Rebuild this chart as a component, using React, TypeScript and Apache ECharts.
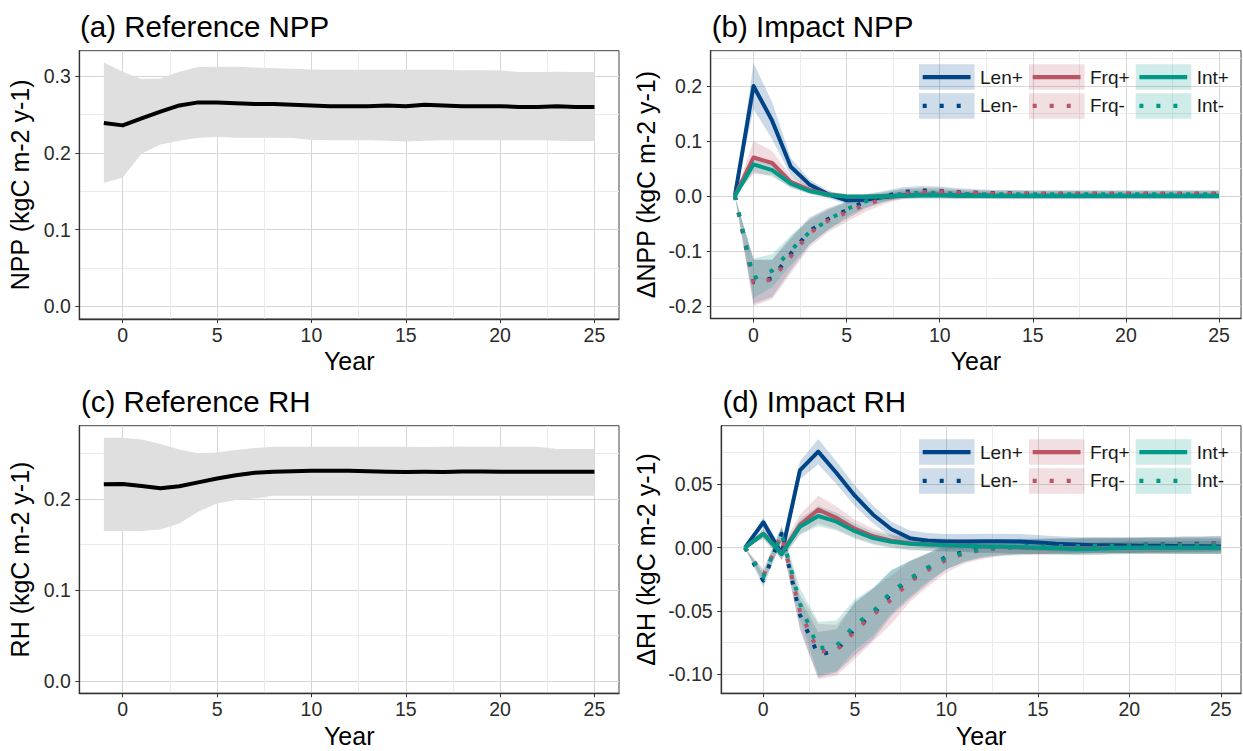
import React, { useEffect, useRef } from 'react';
import * as echarts from 'echarts';

// ---------- data ----------
const years = [-1, 0, 1, 2, 3, 4, 5, 6, 7, 8, 9, 10, 11, 12, 13, 14, 15, 16, 17, 18, 19, 20, 21, 22, 23, 24, 25];
const xTicks = [0, 5, 10, 15, 20, 25];
const yTicksA = [0, 0.1, 0.2, 0.3];
const yTicksB = [-0.2, -0.1, 0, 0.1, 0.2];
const yTicksC = [0, 0.1, 0.2];
const yTicksD = [-0.1, -0.05, 0, 0.05];

const panelTitles = ['(a) Reference NPP', '(b) Impact NPP', '(c) Reference RH', '(d) Impact RH'];
const yTitles = ['NPP (kgC m-2 y-1)', 'ΔNPP (kgC m-2 y-1)', 'RH (kgC m-2 y-1)', 'ΔRH (kgC m-2 y-1)'];
const xTitle = 'Year';
const seriesNames = ['Len+', 'Frq+', 'Int+', 'Len-', 'Frq-', 'Int-'];

// (a) reference NPP
const nppRefMean = [0.239, 0.236, 0.245, 0.254, 0.262, 0.266, 0.266, 0.265, 0.264, 0.264, 0.263, 0.262, 0.261, 0.261, 0.261, 0.262, 0.261, 0.263, 0.262, 0.261, 0.261, 0.261, 0.260, 0.260, 0.261, 0.260, 0.260];
const nppRefUpper = [0.318, 0.306, 0.2965, 0.297, 0.306, 0.312, 0.3125, 0.3125, 0.3115, 0.3105, 0.310, 0.309, 0.3085, 0.3085, 0.3085, 0.3085, 0.3085, 0.3085, 0.3085, 0.308, 0.308, 0.3075, 0.3055, 0.3055, 0.306, 0.3055, 0.3055];
const nppRefLower = [0.161, 0.168, 0.199, 0.211, 0.216, 0.220, 0.221, 0.220, 0.220, 0.220, 0.2195, 0.217, 0.2165, 0.2165, 0.2165, 0.216, 0.215, 0.216, 0.2165, 0.2165, 0.2165, 0.2165, 0.2165, 0.2165, 0.216, 0.2155, 0.2155];

// (c) reference RH
const rhRefMean = [0.2162, 0.2165, 0.2143, 0.2118, 0.2140, 0.2183, 0.2225, 0.2262, 0.2288, 0.2300, 0.2306, 0.2310, 0.2311, 0.2310, 0.2305, 0.2300, 0.2298, 0.2299, 0.2298, 0.2303, 0.2302, 0.2301, 0.2300, 0.2300, 0.2300, 0.2299, 0.2299];
const rhRefUpper = [0.2674, 0.2674, 0.2655, 0.2605, 0.2545, 0.2502, 0.2512, 0.2538, 0.2562, 0.2575, 0.2575, 0.2575, 0.2575, 0.2575, 0.2575, 0.2575, 0.2575, 0.2572, 0.2575, 0.2577, 0.2575, 0.2575, 0.2575, 0.2575, 0.2550, 0.2550, 0.2550];
const rhRefLower = [0.1648, 0.1648, 0.1650, 0.1665, 0.1730, 0.1860, 0.1952, 0.1990, 0.2007, 0.2035, 0.2037, 0.2037, 0.2037, 0.2037, 0.2037, 0.2037, 0.2037, 0.2037, 0.2037, 0.2037, 0.2037, 0.2037, 0.2037, 0.2037, 0.2037, 0.2037, 0.2037];

// (b) impact NPP: means
const lenPlusB = [0, 0.200, 0.137, 0.053, 0.021, 0.003, -0.008, -0.007, -0.002, 0.001, 0.002, 0.002, 0.001, 0.001, 0, 0, 0, 0, 0, 0, 0, 0, 0, 0, 0, 0, 0];
const frqPlusB = [0, 0.070, 0.060, 0.0255, 0.011, 0.0025, -0.001, -0.0015, -0.0005, 0.001, 0.0015, 0.0015, 0.001, 0.001, 0.0005, 0, 0, 0, 0, 0, 0, 0, 0, 0, 0, 0, 0];
const intPlusB = [0, 0.0575, 0.047, 0.0225, 0.009, 0.002, -0.001, -0.0015, -0.0005, 0.0005, 0.001, 0.001, 0.0005, 0, 0, 0, 0, 0, 0, 0, 0, 0, 0, 0, 0, 0, 0];
const lenMinusB = [0, -0.156, -0.150, -0.105, -0.064, -0.042, -0.026, -0.010, -0.001, 0.007, 0.010, 0.009, 0.007, 0.006, 0.005, 0.005, 0.004, 0.004, 0.004, 0.004, 0.004, 0.004, 0.004, 0.004, 0.004, 0.004, 0.004];
const frqMinusB = [0, -0.158, -0.152, -0.110, -0.068, -0.045, -0.030, -0.016, -0.005, 0.004, 0.007, 0.008, 0.006, 0.005, 0.004, 0.004, 0.004, 0.004, 0.004, 0.004, 0.004, 0.004, 0.004, 0.004, 0.004, 0.004, 0.004];
const intMinusB = [0, -0.150, -0.136, -0.099, -0.066, -0.044, -0.024, -0.010, -0.002, 0.004, 0.006, 0.006, 0.004, 0.003, 0.003, 0.003, 0.003, 0.003, 0.003, 0.003, 0.003, 0.003, 0.003, 0.003, 0.003, 0.003, 0.003];
// (b) ribbon half-widths
const lenPlusBSd = [0, 0.042, 0.034, 0.016, 0.009, 0.007, 0.006, 0.006, 0.006, 0.007, 0.007, 0.007, 0.007, 0.006, 0.006, 0.006, 0.006, 0.006, 0.006, 0.006, 0.006, 0.006, 0.006, 0.006, 0.006, 0.006, 0.006];
const frqPlusBSd = [0, 0.030, 0.022, 0.011, 0.007, 0.006, 0.005, 0.005, 0.005, 0.005, 0.005, 0.005, 0.005, 0.005, 0.005, 0.005, 0.005, 0.005, 0.005, 0.005, 0.005, 0.005, 0.005, 0.005, 0.005, 0.005, 0.005];
const intPlusBSd = [0, 0.014, 0.012, 0.007, 0.005, 0.005, 0.004, 0.004, 0.004, 0.004, 0.004, 0.004, 0.004, 0.004, 0.004, 0.004, 0.004, 0.004, 0.004, 0.004, 0.004, 0.004, 0.004, 0.004, 0.004, 0.004, 0.004];
const lenMinusBSd = [0, 0.040, 0.034, 0.030, 0.025, 0.020, 0.016, 0.013, 0.010, 0.009, 0.008, 0.008, 0.007, 0.006, 0.006, 0.006, 0.006, 0.006, 0.006, 0.006, 0.006, 0.006, 0.006, 0.006, 0.006, 0.006, 0.006];
const frqMinusBSd = [0, 0.042, 0.036, 0.031, 0.026, 0.021, 0.017, 0.013, 0.010, 0.009, 0.008, 0.007, 0.006, 0.006, 0.006, 0.006, 0.006, 0.006, 0.006, 0.006, 0.006, 0.006, 0.006, 0.006, 0.006, 0.006, 0.006];
const intMinusBSd = [0, 0.036, 0.030, 0.027, 0.022, 0.018, 0.014, 0.011, 0.009, 0.008, 0.007, 0.006, 0.006, 0.006, 0.006, 0.006, 0.006, 0.006, 0.006, 0.006, 0.006, 0.006, 0.006, 0.006, 0.006, 0.006, 0.006];

// (d) impact RH: means
const lenPlusD = [0, 0.020, -0.005, 0.061, 0.0758, 0.059, 0.041, 0.026, 0.0145, 0.0075, 0.0055, 0.0048, 0.0048, 0.005, 0.005, 0.0048, 0.004, 0.003, 0.0025, 0.002, 0.002, 0.0018, 0.0015, 0.0015, 0.0012, 0.0012, 0.001];
const frqPlusD = [0, 0.011, -0.0045, 0.018, 0.030, 0.0235, 0.015, 0.009, 0.0055, 0.0035, 0.0027, 0.002, 0.0015, 0.001, 0.0005, 0, -0.0005, -0.0005, -0.0005, -0.0005, 0, 0, 0, 0, 0, 0, 0];
const intPlusD = [0, 0.011, -0.005, 0.0165, 0.025, 0.0205, 0.013, 0.0075, 0.0047, 0.003, 0.0025, 0.002, 0.0015, 0.001, 0.001, 0.0005, 0, -0.0005, -0.001, -0.001, -0.0005, 0, 0, 0, 0, 0, 0];
const lenMinusD = [0, -0.026, 0.011, -0.053, -0.0845, -0.0815, -0.064, -0.0525, -0.036, -0.0255, -0.0163, -0.0071, -0.0032, -0.001, 0, 0.001, 0.001, 0.0015, 0.0015, 0.002, 0.002, 0.002, 0.0025, 0.0025, 0.003, 0.003, 0.0034];
const frqMinusD = [0, -0.022, 0.010, -0.050, -0.082, -0.081, -0.066, -0.053, -0.041, -0.027, -0.0176, -0.0097, -0.0045, -0.0018, -0.0005, 0, 0.0005, 0.001, 0.001, 0.0015, 0.0015, 0.002, 0.002, 0.002, 0.0025, 0.0025, 0.003];
const intMinusD = [0, -0.023, 0.011, -0.044, -0.0795, -0.0775, -0.061, -0.0505, -0.0347, -0.0245, -0.0155, -0.008, -0.004, -0.001, 0, 0.0005, 0.001, 0.001, 0.001, 0.0015, 0.0015, 0.0015, 0.002, 0.002, 0.002, 0.002, 0.002];
// (d) ribbon half-widths
const lenPlusDSd = [0, 0.004, 0.005, 0.007, 0.010, 0.009, 0.008, 0.007, 0.006, 0.006, 0.006, 0.006, 0.006, 0.006, 0.006, 0.006, 0.006, 0.006, 0.006, 0.006, 0.006, 0.006, 0.006, 0.006, 0.006, 0.006, 0.006];
const frqPlusDSd = [0, 0.004, 0.005, 0.008, 0.011, 0.009, 0.007, 0.006, 0.005, 0.005, 0.005, 0.005, 0.005, 0.005, 0.005, 0.005, 0.005, 0.005, 0.005, 0.005, 0.005, 0.005, 0.005, 0.005, 0.005, 0.005, 0.005];
const intPlusDSd = [0, 0.004, 0.004, 0.006, 0.008, 0.007, 0.006, 0.005, 0.005, 0.005, 0.005, 0.005, 0.005, 0.005, 0.005, 0.005, 0.005, 0.005, 0.005, 0.005, 0.005, 0.005, 0.005, 0.005, 0.005, 0.005, 0.005];
const lenMinusDSd = [0, 0.005, 0.006, 0.012, 0.018, 0.017, 0.021, 0.020, 0.018, 0.015, 0.012, 0.010, 0.008, 0.007, 0.006, 0.006, 0.006, 0.006, 0.006, 0.006, 0.006, 0.006, 0.006, 0.006, 0.006, 0.006, 0.006];
const frqMinusDSd = [0, 0.005, 0.006, 0.013, 0.022, 0.020, 0.022, 0.021, 0.019, 0.016, 0.013, 0.010, 0.008, 0.007, 0.006, 0.006, 0.006, 0.006, 0.006, 0.006, 0.006, 0.006, 0.006, 0.006, 0.006, 0.006, 0.006];
const intMinusDSd = [0, 0.005, 0.006, 0.012, 0.021, 0.020, 0.020, 0.019, 0.017, 0.014, 0.011, 0.009, 0.007, 0.006, 0.006, 0.006, 0.006, 0.006, 0.006, 0.006, 0.006, 0.006, 0.006, 0.006, 0.006, 0.006, 0.006];

// ---------- styles ----------
const FONT = "'Liberation Sans', Arial, Helvetica, sans-serif";
const COLORS = ['#004488', '#BB5566', '#009988'];
const RGB = ['0,68,136', '187,85,102', '0,153,136'];
const RIBBON_ALPHA = 0.2;
const DOT = [4, 13];
const LW = 4;

const grids = [
  { left: 79.3, top: 50.7, width: 539.7, height: 268.3 },
  { left: 710.7, top: 50.7, width: 530.3, height: 267.8 },
  { left: 79.3, top: 425.7, width: 539.7, height: 267.6 },
  { left: 721.2, top: 425.7, width: 519.8, height: 267.6 },
];
const xMax = [26.3, 26.18, 26.3, 26.1];
const yRanges = [
  { min: -0.0165, max: 0.3334, interval: 0.1, split: 3, ticks: yTicksA, dec: 1 },
  { min: -0.223, max: 0.2643, interval: 0.1, split: 4, ticks: yTicksB, dec: 1 },
  { min: -0.0135, max: 0.2806, interval: 0.1, split: 3, ticks: yTicksC, dec: 1 },
  { min: -0.115, max: 0.0963, interval: 0.05, split: 4, ticks: yTicksD, dec: 2 },
];

function ribbon(idx: number, lo: number[], hi: number[], fill: string) {
  return {
    type: 'custom',
    coordinateSystem: 'cartesian2d',
    xAxisIndex: idx,
    yAxisIndex: idx,
    silent: true,
    clip: true,
    z: 2,
    data: years.map((y, i) => [y, lo[i], hi[i]]),
    encode: { x: 0, y: [1, 2] },
    renderItem: (params: any, api: any) => {
      if (params.dataIndex !== 0) return null;
      const pts: number[][] = [];
      for (let i = 0; i < years.length; i++) pts.push(api.coord([years[i], hi[i]]));
      for (let i = years.length - 1; i >= 0; i--) pts.push(api.coord([years[i], lo[i]]));
      return { type: 'polygon', shape: { points: pts }, style: { fill, stroke: null } };
    },
  };
}

function line(idx: number, vals: number[], color: string, dotted: boolean, name: string) {
  return {
    type: 'line',
    name,
    xAxisIndex: idx,
    yAxisIndex: idx,
    data: years.map((y, i) => [y, vals[i]]),
    symbol: 'none',
    showSymbol: false,
    silent: true,
    z: 3,
    lineStyle: { color, width: LW, type: dotted ? DOT : 'solid', cap: 'butt', join: 'round' },
  };
}

function impactSeries(idx: number, means: number[][], sds: number[][]) {
  const out: any[] = [];
  for (let k = 0; k < 6; k++) {
    const g = k % 3;
    const m = means[k];
    const s = sds[k];
    const lo = m.map((v, i) => v - s[i]);
    const hi = m.map((v, i) => v + s[i]);
    out.push(ribbon(idx, lo, hi, `rgba(${RGB[g]},${RIBBON_ALPHA})`));
  }
  const order = [0, 3, 1, 4, 2, 5];
  for (const k of order) {
    out.push(line(idx, means[k], COLORS[k % 3], k >= 3, seriesNames[k]));
  }
  return out;
}

function buildOption() {
  const xAxes = grids.map((_, i) => ({
    type: 'value',
    gridIndex: i,
    min: -2.3,
    max: xMax[i],
    splitNumber: 5,
    minInterval: 5,
    maxInterval: 5,
    axisLine: { show: true, onZero: false, lineStyle: { color: '#333', width: 1.3 } },
    axisTick: { show: true, length: 4, customValues: xTicks, lineStyle: { color: '#333', width: 1 } },
    axisLabel: {
      show: true,
      customValues: xTicks,
      margin: 6,
      fontSize: 19.5,
      fontFamily: FONT,
      color: '#2b2b2b',
      formatter: (v: number) => String(v),
    },
    splitLine: { show: true, lineStyle: { color: '#d6d6d6', width: 1 } },
    minorTick: { show: false, splitNumber: 2 },
    minorSplitLine: { show: true, lineStyle: { color: '#ebebeb', width: 1 } },
  }));
  const yAxes = grids.map((_, i) => {
    const r = yRanges[i];
    return {
      type: 'value',
      gridIndex: i,
      min: r.min,
      max: r.max,
      splitNumber: r.split,
      minInterval: r.interval,
      maxInterval: r.interval,
      axisLine: { show: true, onZero: false, lineStyle: { color: '#333', width: 1.3 } },
      axisTick: { show: true, length: 4, customValues: r.ticks, lineStyle: { color: '#333', width: 1 } },
      axisLabel: {
        show: true,
        customValues: r.ticks,
        margin: 8.5,
        fontSize: 19.5,
        fontFamily: FONT,
        color: '#2b2b2b',
        formatter: (v: number) => v.toFixed(r.dec),
      },
      splitLine: { show: true, lineStyle: { color: '#d6d6d6', width: 1 } },
      minorTick: { show: false, splitNumber: 2 },
      minorSplitLine: { show: true, lineStyle: { color: '#ebebeb', width: 1 } },
    };
  });

  const series: any[] = [
    ribbon(0, nppRefLower, nppRefUpper, '#dfdfdf'),
    { ...line(0, nppRefMean, '#000000', false, 'NPP'), lineStyle: { color: '#000', width: LW, cap: 'butt', join: 'round' } },
    ribbon(2, rhRefLower, rhRefUpper, '#dfdfdf'),
    { ...line(2, rhRefMean, '#000000', false, 'RH'), lineStyle: { color: '#000', width: LW, cap: 'butt', join: 'round' } },
    ...impactSeries(
      1,
      [lenPlusB, frqPlusB, intPlusB, lenMinusB, frqMinusB, intMinusB],
      [lenPlusBSd, frqPlusBSd, intPlusBSd, lenMinusBSd, frqMinusBSd, intMinusBSd]
    ),
    ...impactSeries(
      3,
      [lenPlusD, frqPlusD, intPlusD, lenMinusD, frqMinusD, intMinusD],
      [lenPlusDSd, frqPlusDSd, intPlusDSd, lenMinusDSd, frqMinusDSd, intMinusDSd]
    ),
  ];

  const graphics: any[] = [];
  const titlePos = [
    [80, 26],
    [711.7, 26],
    [81, 401],
    [722.5, 401],
  ];
  panelTitles.forEach((t, i) => {
    graphics.push({
      type: 'text',
      x: titlePos[i][0],
      y: titlePos[i][1],
      silent: true,
      style: { text: t, fontSize: 29.5, fontFamily: FONT, fill: '#000', align: 'left', textAlign: 'left', verticalAlign: 'middle', textVerticalAlign: 'middle' },
    });
  });
  const yTitlePos = [
    [20.1, 184.85],
    [646, 184.6],
    [20.1, 559.5],
    [646, 559.5],
  ];
  yTitles.forEach((t, i) => {
    graphics.push({
      type: 'text',
      x: yTitlePos[i][0],
      y: yTitlePos[i][1],
      rotation: Math.PI / 2,
      silent: true,
      style: { text: t, fontSize: 25, fontFamily: FONT, fill: '#000', align: 'center', textAlign: 'center', verticalAlign: 'middle', textVerticalAlign: 'middle' },
    });
  });
  const xTitlePos = [
    [349.2, 361.3],
    [975.9, 361.3],
    [349.2, 736.3],
    [981.1, 736.3],
  ];
  xTitlePos.forEach((p) => {
    graphics.push({
      type: 'text',
      x: p[0],
      y: p[1],
      silent: true,
      style: { text: xTitle, fontSize: 25, fontFamily: FONT, fill: '#000', align: 'center', textAlign: 'center', verticalAlign: 'middle', textVerticalAlign: 'middle' },
    });
  });
  const legendCols = [919, 1029, 1135.7];
  const legendRows = [64.3, 93.2];
  const keyW = 55.6;
  const keyH = 25.5;
  [0, 375].forEach((dy) => {
    seriesNames.forEach((name, k) => {
      const col = k % 3;
      const row = k >= 3 ? 1 : 0;
      const x = legendCols[col];
      const y = legendRows[row] + dy;
      const cy = y + keyH / 2;
      graphics.push({
        type: 'rect',
        silent: true,
        z: 10,
        shape: { x, y, width: keyW, height: keyH },
        style: { fill: `rgba(${RGB[col]},${RIBBON_ALPHA * 0.95})` },
      });
      graphics.push({
        type: 'line',
        silent: true,
        z: 11,
        shape: { x1: x + 3.7, y1: cy, x2: x + 51.5, y2: cy },
        style: { stroke: COLORS[col], lineWidth: LW + 0.3, lineDash: row === 1 ? DOT : null, lineCap: 'butt' },
      });
      graphics.push({
        type: 'text',
        silent: true,
        z: 11,
        x: x + 61,
        y: cy,
        style: { text: name, fontSize: 19, fontFamily: FONT, fill: '#1a1a1a', align: 'left', textAlign: 'left', verticalAlign: 'middle', textVerticalAlign: 'middle' },
      });
    });
  });

  return {
    animation: false,
    backgroundColor: '#ffffff',
    grid: grids.map((g) => ({
      ...g,
      show: true,
      borderColor: '#444',
      borderWidth: 1,
      backgroundColor: 'transparent',
      containLabel: false,
      outerBoundsMode: 'none',
    })),
    xAxis: xAxes,
    yAxis: yAxes,
    series,
    graphic: graphics,
  };
}

export default function App() {
  const ref = useRef<HTMLDivElement>(null);
  useEffect(() => {
    if (!ref.current) return;
    const chart = echarts.init(ref.current, null, { renderer: 'svg' });
    chart.setOption(buildOption() as any);
    return () => {
      chart.dispose();
    };
  }, []);
  return (
    <div
      ref={ref}
      style={{ position: 'fixed', left: 0, top: 0, width: 1243, height: 751, background: '#fff' }}
    />
  );
}
